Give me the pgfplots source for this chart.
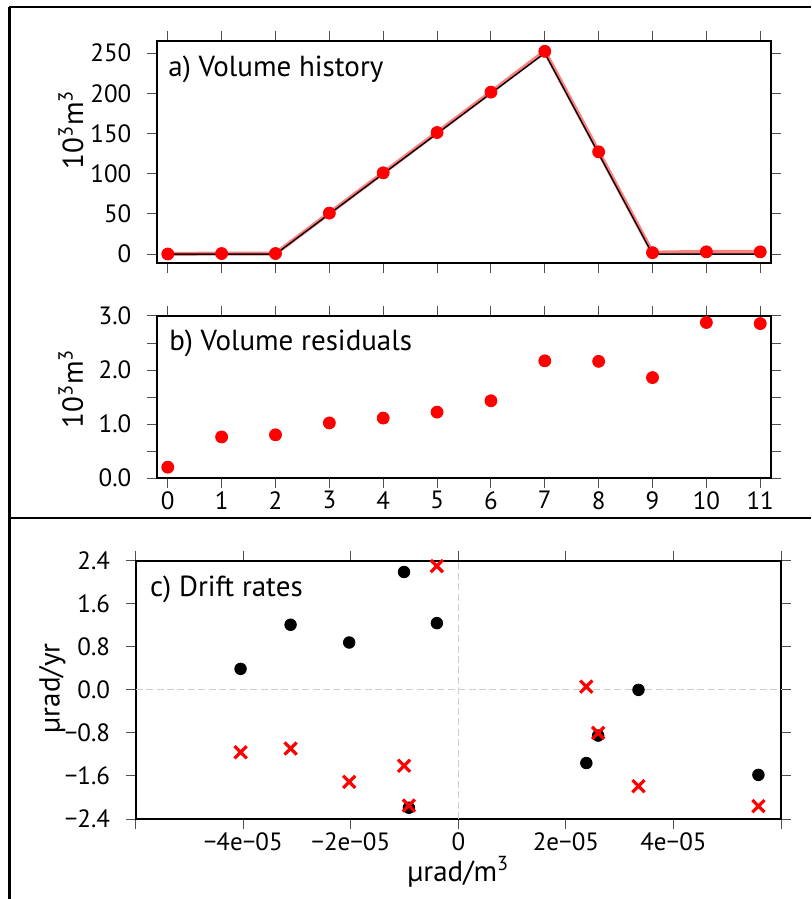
\documentclass[border=0pt]{standalone}
\usepackage{fontspec}
\setmainfont{PT Sans}
\usepackage{pgfplots}
\pgfplotsset{compat=1.18}

\definecolor{myred}{RGB}{255,0,0}
\definecolor{tickgray}{RGB}{80,80,80}
\definecolor{zerogray}{RGB}{205,205,205}

\pgfplotsset{
  gmt/.style={
    scale only axis,
    axis line style={line width=1.2pt},
    tick align=outside,
    major tick length=5pt,
    tick style={line width=0.5pt, tickgray},
    font=\fontsize{14.5}{17}\selectfont,
    tick label style={font=\fontsize{12.5}{15}\selectfont},
    /pgf/number format/assume math mode=true,
    minor tick num=0,
    clip=false,
    yticklabel shift=4.3pt,
    xticklabel shift=-1.8pt,
    scaled ticks=false,
  }
}

\begin{document}
\begin{tikzpicture}
\useasboundingbox (0,0) rectangle (405.5pt,-449.5pt);
% frame lines
\draw[line width=1.2pt] (4.65pt,-3.5pt) -- (405.5pt,-3.5pt);
\draw[line width=1.2pt] (4.65pt,-3.5pt) -- (4.65pt,-449.5pt);
\draw[line width=1.2pt] (4.65pt,-259pt) -- (405.5pt,-259pt);

% ---------- a) Volume history
\begin{axis}[gmt,
  at={(78.5pt,-131.5pt)}, anchor=south west,
  width=307pt, height=111pt,
  xmin=-0.2, xmax=11.2, ymin=-11, ymax=265,
  xtick={0,1,2,3,4,5,6,7,8,9,10,11}, xticklabels={},
  ytick={0,50,100,150,200,250},
  ylabel={10\textsuperscript{3}m\textsuperscript{3}},
  ylabel style={at={([xshift=-37pt]axis description cs:0,0.6)}, anchor=base},
]
\addplot[myred, opacity=0.5, line width=2pt] coordinates {(0,0.20)(1,0.76)(2,0.80)(3,51.02)(4,101.11)(5,151.22)(6,201.43)(7,252.17)(8,127.16)(9,1.86)(10,2.88)(11,2.86)};
\addplot[black, line width=0.7pt] coordinates {(0,0)(1,0)(2,0)(3,50)(4,100)(5,150)(6,200)(7,250)(8,125)(9,0)(10,0)(11,0)};
\addplot[only marks, mark=*, mark size=3pt, myred] coordinates {(0,0.20)(1,0.76)(2,0.80)(3,51.02)(4,101.11)(5,151.22)(6,201.43)(7,252.17)(8,127.16)(9,1.86)(10,2.88)(11,2.86)};
\node[anchor=base west, inner sep=0pt] at ([xshift=5.5pt,yshift=-17.8pt]rel axis cs:0,1) {a) Volume history};
\end{axis}

% ---------- b) Volume residuals
\begin{axis}[gmt,
  at={(78.5pt,-239pt)}, anchor=south west,
  width=307pt, height=81pt,
  xmin=-0.2, xmax=11.2, ymin=0, ymax=3,
  xtick={0,1,2,3,4,5,6,7,8,9,10,11},
  ytick={0,0.5,1,1.5,2,2.5,3},
  yticklabels={0.0,,1.0,,2.0,,3.0},
  ylabel={10\textsuperscript{3}m\textsuperscript{3}},
  ylabel style={at={([xshift=-37pt]axis description cs:0,0.55)}, anchor=base},
]
\addplot[only marks, mark=*, mark size=3pt, myred] coordinates {(0,0.20)(1,0.76)(2,0.80)(3,1.02)(4,1.11)(5,1.22)(6,1.43)(7,2.17)(8,2.16)(9,1.86)(10,2.88)(11,2.86)};
\node[anchor=base west, inner sep=0pt] at ([xshift=6pt,yshift=-17pt]rel axis cs:0,1) {b) Volume residuals};
\end{axis}

% ---------- c) Drift rates
\begin{axis}[gmt,
  at={(67.85pt,-409.5pt)}, anchor=south west,
  width=322.65pt, height=129.15pt,
  xmin=-6e-5, xmax=6e-5, ymin=-2.4, ymax=2.4,
  xtick={-6e-5,-4e-5,-2e-5,0,2e-5,4e-5,6e-5},
  xticklabels={,−4e−05,−2e−05,0,2e−05,4e−05,},
  ytick={-2.4,-1.6,-0.8,0,0.8,1.6,2.4},
  yticklabels={−2.4,−1.6,−0.8,0.0,0.8,1.6,2.4},
  xlabel={µrad/m\textsuperscript{3}},
  xlabel style={at={([yshift=-31pt]axis description cs:0.5,0)}, anchor=base},
  ylabel={µrad/yr},
  ylabel style={at={([xshift=-38pt]axis description cs:0,0.506)}, anchor=base},
]
\addplot[zerogray, line width=0.5pt, dash pattern=on 3.5pt off 1.7pt] coordinates {(-6e-5,0)(6e-5,0)};
\addplot[zerogray, line width=0.5pt, dash pattern=on 3.5pt off 1.7pt] coordinates {(0,-2.4)(0,2.4)};
\addplot[only marks, mark=*, mark size=2.9pt, black] coordinates {(-4.05e-5,0.39)(-3.12e-5,1.21)(-2.03e-5,0.88)(-1.01e-5,2.19)(-0.40e-5,1.24)(-0.92e-5,-2.19)(2.38e-5,-1.36)(2.6e-5,-0.85)(3.35e-5,0.0)(5.58e-5,-1.58)};
\addplot[only marks, mark=x, mark size=4.3pt, myred, mark options={line width=1.6pt}] coordinates {(-4.05e-5,-1.16)(-3.12e-5,-1.09)(-2.03e-5,-1.71)(-1.01e-5,-1.41)(-0.40e-5,2.30)(-0.92e-5,-2.15)(2.38e-5,0.06)(2.6e-5,-0.80)(3.35e-5,-1.79)(5.58e-5,-2.16)};
\node[anchor=base west, inner sep=0pt] at ([xshift=7pt,yshift=-18pt]rel axis cs:0,1) {c) Drift rates};
\end{axis}
\end{tikzpicture}
\end{document}
